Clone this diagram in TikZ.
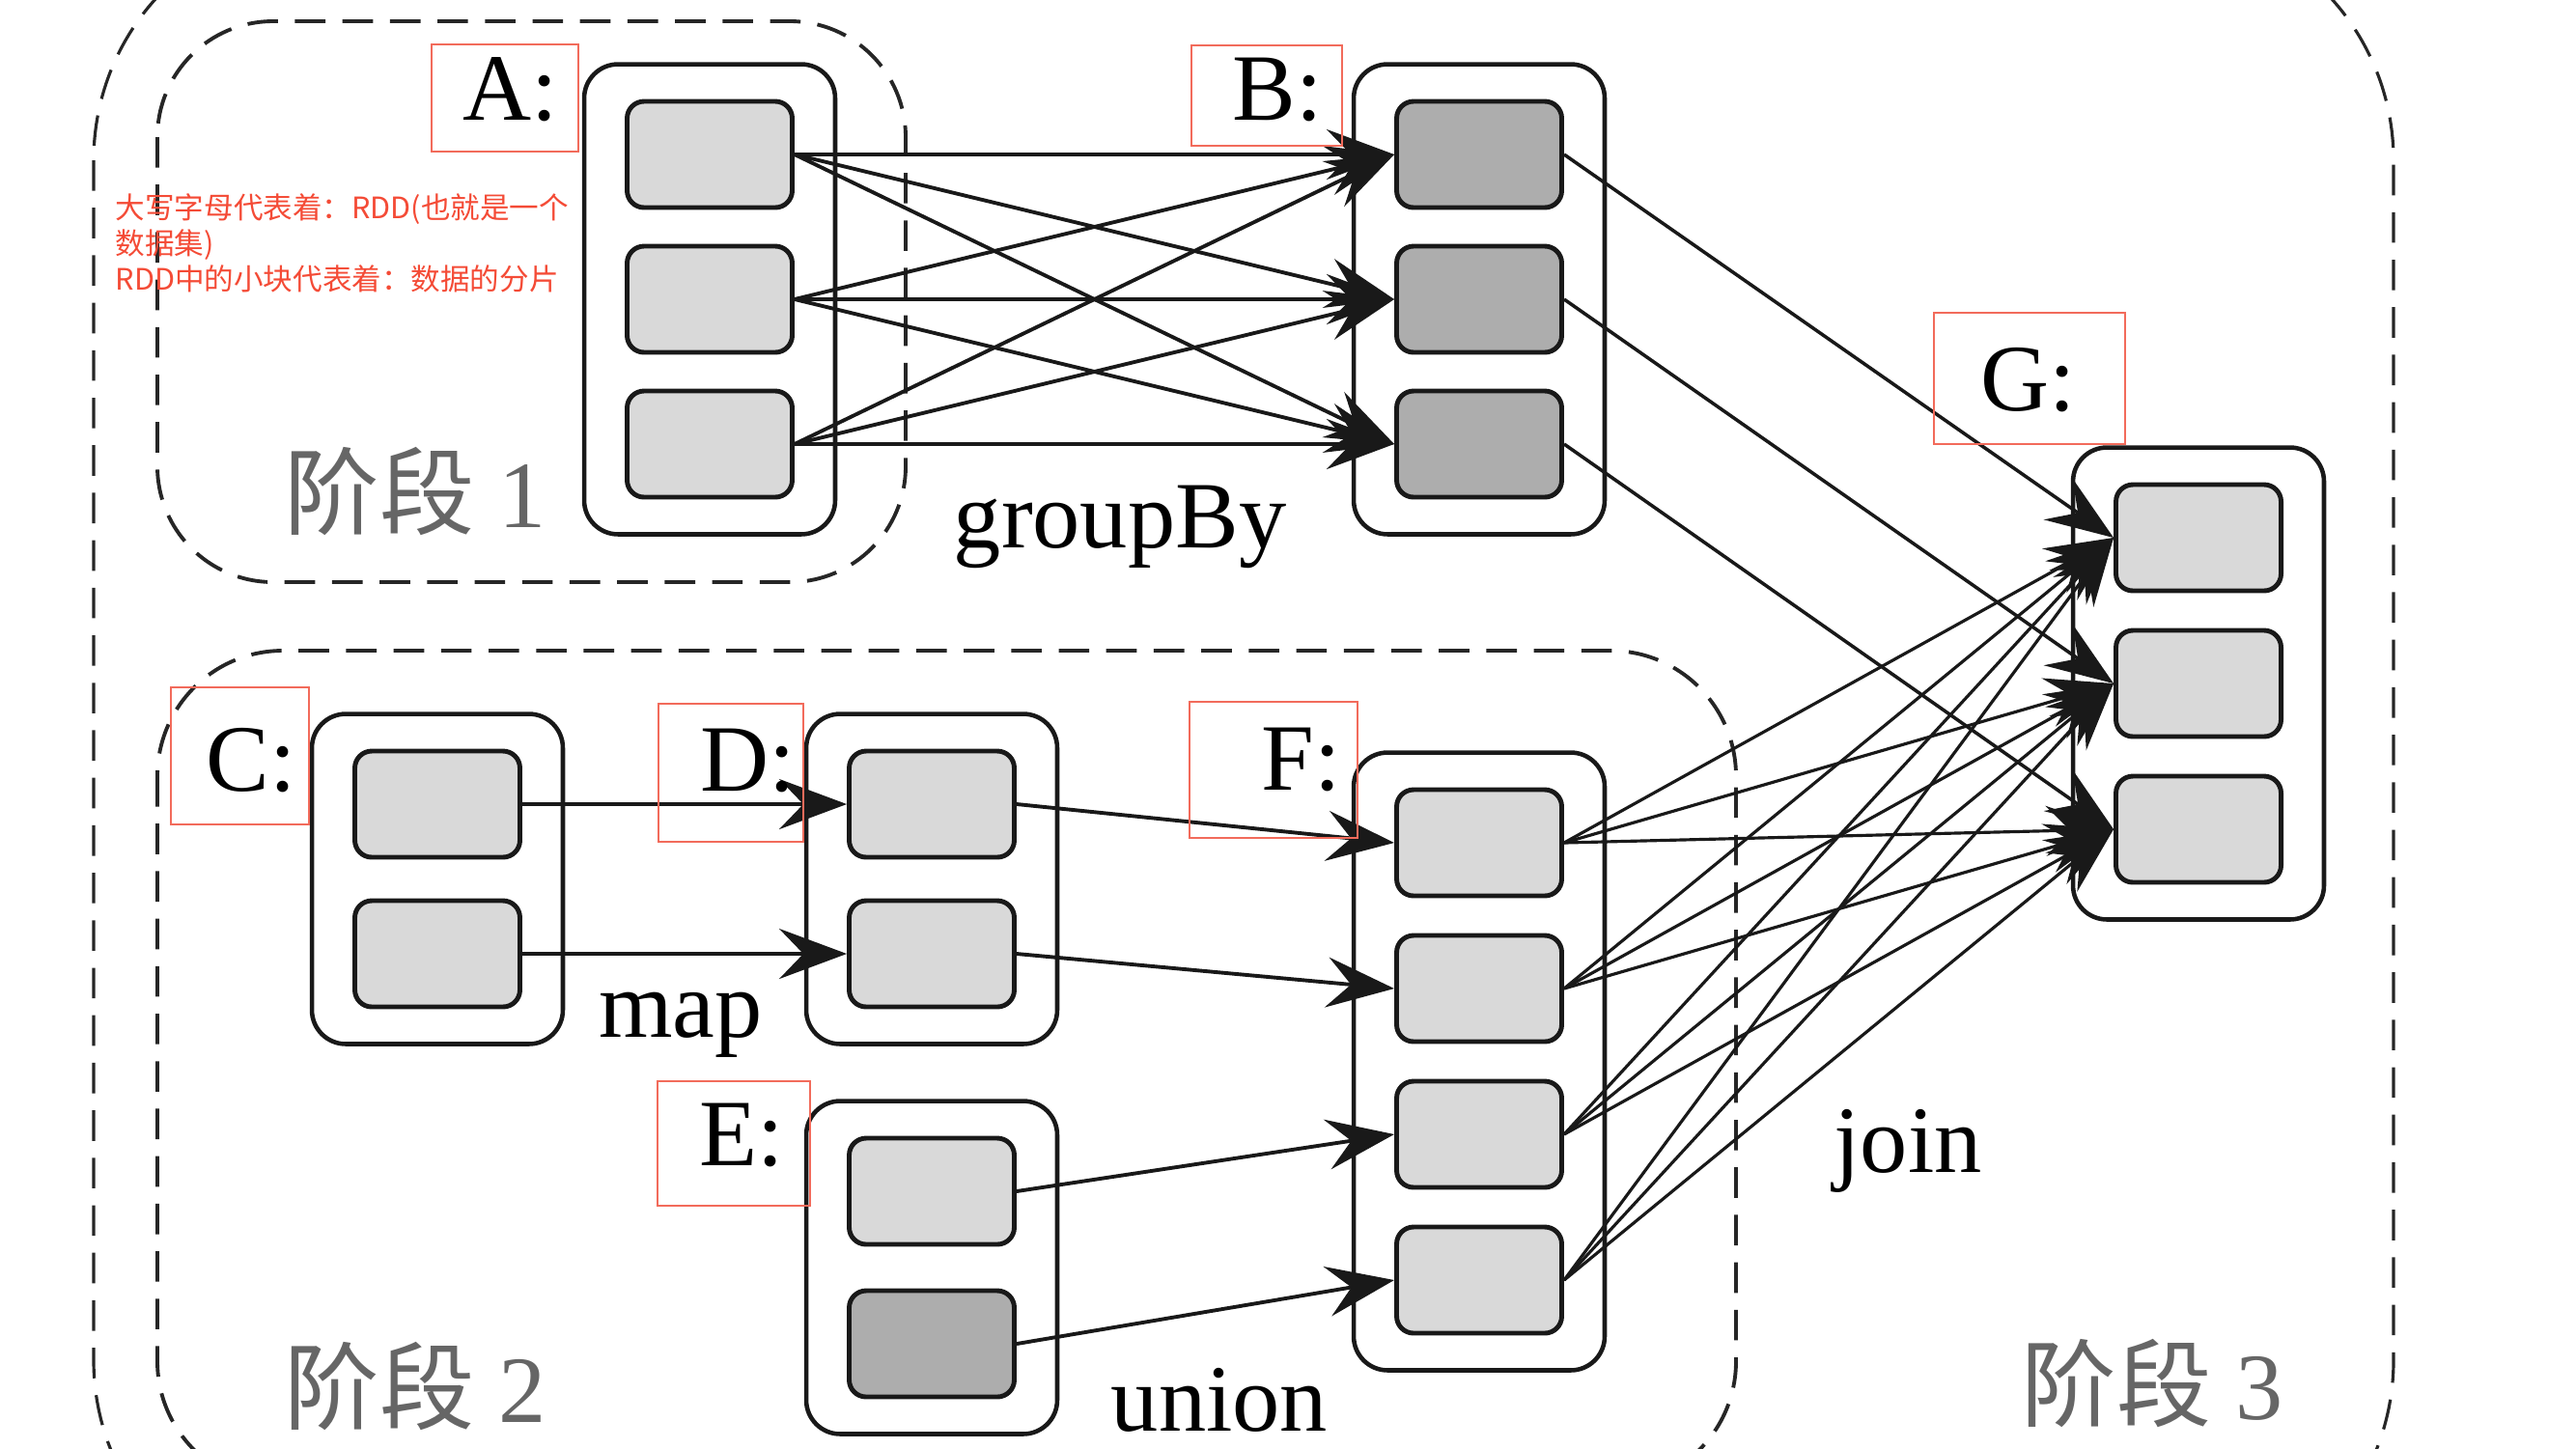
\documentclass[tikz,border=0pt]{standalone}
\usepackage{fontspec}
\setmainfont{Liberation Serif}
\newfontfamily\cjk{Noto Sans CJK SC}
\usetikzlibrary{arrows.meta,fit,backgrounds}
\definecolor{partLight}{HTML}{D9D9D9}
\definecolor{partDark}{HTML}{ADADAD}
\definecolor{noteRed}{HTML}{F44B36}
\definecolor{tagRed}{HTML}{F26B5B}
\definecolor{stageGray}{HTML}{666666}

\begin{document}
\begin{tikzpicture}[
    part/.style={draw=black!90, line width=1.4pt, rounded corners=5pt, minimum width=1.71cm, minimum height=1.10cm, inner sep=0pt, fill=#1},
    part/.default=partLight,
    rdd/.style={draw=black!90, line width=1.3pt, rounded corners=10pt, fill=white, inner xsep=0.42cm, inner ysep=0.36cm},
    stage/.style={draw=black!85, line width=1.1pt, dash pattern=on 9pt off 5pt},
    arrow/.style={-{Stealth[length=0.7cm, width=0.52cm, inset=0.25cm]}, line width=1.1pt, black!90},
    tag/.style={draw=tagRed, line width=0.6pt, inner sep=0pt},
    rddname/.style={font=\fontsize{28}{34}\selectfont},
    op/.style={font=\fontsize{28}{34}\selectfont},
    stagetxt/.style={text=stageGray, font=\fontsize{28}{34}\selectfont},
    note/.style={text=noteRed, font=\cjk\fontsize{8.7}{10.5}\selectfont, align=left, inner sep=0pt}
  ]
  \useasboundingbox (0,0) rectangle (26.68,-15.00);

  % partitions
  \foreach \i/\y in {1/-1.60, 2/-3.10, 3/-4.60} {
    \node[part] (a\i) at (7.35,\y) {};
    \node[part=partDark] (b\i) at (15.32,\y) {};
  }
  \foreach \i/\y in {1/-5.57, 2/-7.08, 3/-8.59}
    \node[part] (g\i) at (22.77,\y) {};
  \foreach \i/\y in {1/-8.33, 2/-9.88} {
    \node[part] (c\i) at (4.53,\y) {};
    \node[part] (d\i) at (9.65,\y) {};
  }
  \node[part] (e1) at (9.65,-12.34) {};
  \node[part=partDark] (e2) at (9.65,-13.92) {};
  \foreach \i/\y in {1/-8.73, 2/-10.24, 3/-11.75, 4/-13.26}
    \node[part] (f\i) at (15.32,\y) {};

  % stages and rdd frames
  \begin{scope}[on background layer]
    \draw[stage, line width=0.9pt, rounded corners=2.5cm] (0.97,0.84) rectangle (24.79,-16.59);
    \draw[stage, rounded corners=1.2cm] (1.63,-0.22) rectangle (9.38,-6.03);
    \draw[stage, rounded corners=1.3cm] (1.63,-6.74) rectangle (17.98,-15.40);
    \node[rdd, fit=(a1)(a3)] (A) {};
    \node[rdd, fit=(b1)(b3)] (B) {};
    \node[rdd, fit=(g1)(g3)] (G) {};
    \node[rdd, fit=(c1)(c2)] (C) {};
    \node[rdd, fit=(d1)(d2)] (D) {};
    \node[rdd, fit=(e1)(e2)] (E) {};
    \node[rdd, fit=(f1)(f4)] (F) {};
  \end{scope}

  % dependencies
  \foreach \i in {1,2,3}
    \foreach \j in {1,2,3}
      \draw[arrow] (a\i.east) -- (b\j.west);
  \foreach \i in {1,2,3}
    \draw[arrow, line width=1pt] (b\i.east) -- (g\i.west);
  \foreach \i in {1,...,4}
    \foreach \j in {1,2,3}
      \draw[arrow, line width=0.9pt] (f\i.east) -- (g\j.west);
  \draw[arrow] (c1.east) -- (d1.west);
  \draw[arrow] (c2.east) -- (d2.west);
  \draw[arrow] (d1.east) -- (f1.west);
  \draw[arrow] (d2.east) -- (f2.west);
  \draw[arrow] (e1.east) -- (f3.west);
  \draw[arrow] (e2.east) -- (f4.west);

  % rdd names
  \node[rddname] (lA) at (5.29,-0.93) {A:};
  \node[rddname] (lB) at (13.23,-0.93) {B:};
  \node[rddname] (lC) at (2.60,-7.88) {C:};
  \node[rddname] (lD) at (7.75,-7.88) {D:};
  \node[rddname] (lE) at (7.68,-11.76) {E:};
  \node[rddname] (lF) at (13.48,-7.87) {F:};
  \node[rddname] (lG) at (21.01,-3.94) {G:};
  \node[tag, minimum width=1.52cm, minimum height=1.11cm] (tA) at (5.23,-1.015) {};
  \node[tag, minimum width=1.56cm, minimum height=1.04cm] (tB) at (13.12,-0.99) {};
  \node[tag, minimum width=1.43cm, minimum height=1.42cm] (tC) at (2.485,-7.83) {};
  \node[tag, minimum width=1.50cm, minimum height=1.43cm] (tD) at (7.57,-8.005) {};
  \node[tag, minimum width=1.58cm, minimum height=1.29cm] (tE) at (7.60,-11.845) {};
  \node[tag, minimum width=1.74cm, minimum height=1.41cm] (tF) at (13.19,-7.975) {};
  \node[tag, minimum width=1.98cm, minimum height=1.36cm] (tG) at (21.02,-3.92) {};

  % operations
  \node[op] (groupby) at (11.60,-5.46) {groupBy};
  \node[op] (map) at (7.05,-10.62) {map};
  \node[op] (union) at (12.63,-14.50) {union};
  \node[op] (join) at (19.76,-11.92) {join};

  % stages
  \node[stagetxt] (s1) at (4.30,-5.09) {{\cjk 阶段} 1};
  \node[stagetxt] (s2) at (4.30,-14.36) {{\cjk 阶段} 2};
  \node[stagetxt] (s3) at (22.29,-14.33) {{\cjk 阶段} 3};

  \node[note, anchor=west] (legend) at (1.19,-2.52) {大写字母代表着：RDD(也就是一个\\数据集)\\RDD中的小块代表着：数据的分片};
\end{tikzpicture}
\end{document}
